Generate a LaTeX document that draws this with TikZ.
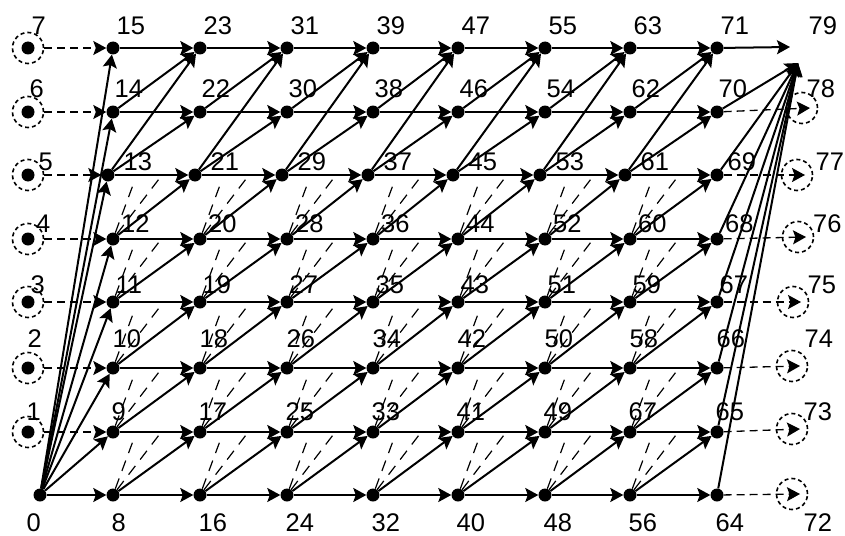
\documentclass[tikz,border=0pt]{standalone}
\usepackage{fontspec}
\setmainfont{Liberation Sans}
\usetikzlibrary{arrows.meta,calc}
\begin{document}
\begin{tikzpicture}[x=1pt,y=-1pt,
  dot/.style={circle,fill=black,inner sep=0pt,minimum size=13pt},
  ring/.style={circle,draw=black,dash pattern=on 4pt off 3pt,line width=1.6pt,inner sep=0pt,minimum size=31pt},
  edge/.style={line width=2pt,-{Stealth[length=13pt,width=14pt,inset=2.5pt]}},
  dedge/.style={line width=1.3pt,dash pattern=on 8pt off 5pt,-{Stealth[length=13pt,width=14pt,inset=2.5pt]}},
  ddiag/.style={line width=1.2pt,dash pattern=on 11pt off 8pt},
  lab/.style={anchor=base west,inner sep=0pt,font=\fontsize{25.5}{25.5}\selectfont}]
\useasboundingbox (0,0) rectangle (845,535);

% grid nodes
\foreach \c/\x in {1/113,2/200,3/287,4/373,5/458,6/545,7/630,8/717}{
  \foreach \r/\y in {0/495,1/432,2/368,3/302,4/239,5/175,6/112,7/48}{
    \pgfmathtruncatemacro\n{8*\c+\r}
    \pgfmathsetmacro\dx{((\r==5) && (\c<8)) ? -5 : 0}
    \node[dot] (n\n) at (\x+\dx,\y) {};
  }
}
\node[dot] (n0) at (40,495) {};
% left rings
\foreach \r/\y in {1/432,2/368,3/302,4/239,5/175,6/112,7/48}{
  \node[ring] (ring\r) at (28,\y) {};
  \node[dot] (n\r) at (28,\y) {};
}
% right rings
\foreach \r/\x/\y in {72/792/494,73/792/429,74/792/366,75/793/302,76/798/237,77/797/175,78/802/108}{
  \node[ring] (n\r) at (\x,\y) {};
  \coordinate (t\r) at (\x+8,\y);
}
\coordinate (n79) at (798,63);
\coordinate (e71) at (790,47);

% short dashed diagonals
\foreach \c in {1,...,7}{
  \foreach \r in {0,...,4}{
    \pgfmathtruncatemacro\n{8*\c+\r}
    \path (n\n.center) ++(20,-54) coordinate (da\n);
    \path (n\n.center) ++(46,-60) coordinate (db\n);
    \draw[ddiag] (n\n) -- (da\n);
    \draw[ddiag] (n\n) -- (db\n);
  }
}

% horizontal and diagonal solid edges
\foreach \c in {1,...,7}{
  \foreach \r in {0,...,7}{
    \pgfmathtruncatemacro\n{8*\c+\r}
    \pgfmathtruncatemacro\m{8*\c+8+\r}
    \draw[edge] (n\n) -- (n\m);
  }
  \foreach \r in {0,...,6}{
    \pgfmathtruncatemacro\n{8*\c+\r}
    \pgfmathtruncatemacro\m{8*\c+9+\r}
    \draw[edge] (n\n) -- (n\m);
  }
  \pgfmathtruncatemacro\n{8*\c+5}
  \pgfmathtruncatemacro\m{8*\c+15}
  \draw[edge] (n\n) -- (n\m);
}
\draw[edge] (n71) -- (e71);
% fan from 0
\foreach \m in {8,...,15}{ \draw[edge] (n0) -- (n\m); }
% fan into 79
\foreach \m in {64,...,70}{ \draw[edge] (n\m) -- (n79); }
% dashed arrows
\foreach \r in {1,...,7}{
  \pgfmathtruncatemacro\m{8+\r}
  \draw[dedge] (ring\r) -- (n\m);
}
\foreach \r in {0,...,6}{
  \pgfmathtruncatemacro\n{64+\r}
  \pgfmathtruncatemacro\m{72+\r}
  \draw[dedge] (n\n) -- (t\m);
}

% labels
\foreach \c/\bx in {0/28,1/113,2/200,3/287,4/373,5/458,6/545,7/630,8/717,9/805}{
  \foreach \r/\off/\bl in {0/0/531,1/0/420,2/1/347,3/4/293,4/9.5/232,5/12/170,6/3/97,7/5/35}{
    \pgfmathtruncatemacro\n{((\c==7) && (\r==1)) ? 67 : 8*\c+\r}
    \node[lab] (lab-\c-\r) at (\bx+\off-1.5,\bl) {\n};
  }
}
\end{tikzpicture}
\end{document}
